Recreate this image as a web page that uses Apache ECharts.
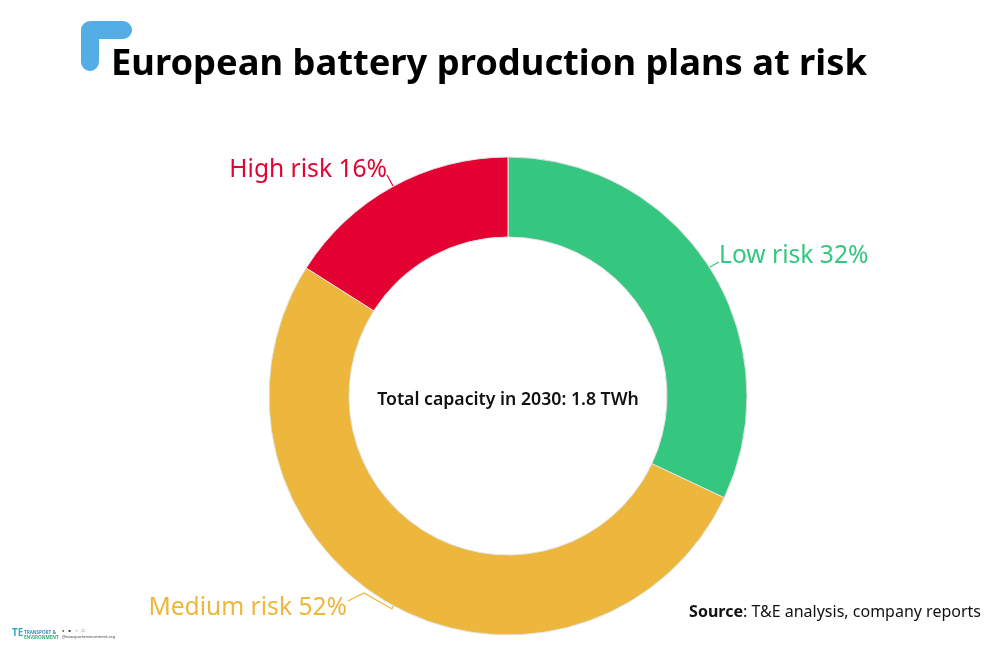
<!DOCTYPE html>
<html>
<head>
<meta charset="utf-8">
<title>European battery production plans at risk</title>
<script src="https://cdn.jsdelivr.net/npm/echarts@6/dist/echarts.min.js"></script>
<style>
html, body { margin: 0; padding: 0; background: #fff; }
#chart { width: 1002px; height: 668px; }
</style>
</head>
<body>
<div id="chart"></div>
<script>
const categories = ["Low risk", "Medium risk", "High risk"];
const shares = [32, 52, 16];
const colors = ["#35c67f", "#ecb73c", "#e40232"];
const titleText = "European battery production plans at risk";
const centerText = "Total capacity in 2030: 1.8 TWh";
const sourceText = "T&E analysis, company reports";

const FONT = '"Noto Sans", sans-serif';

// label anchors and leader lines, in page pixels
const labelSpots = [
	{ x: 719, y: 256, align: "left", line: [[708, 268], [719, 262]] },
	{ x: 347, y: 608, align: "right", line: [[394, 604], [392, 609], [364, 593], [348, 601]] },
	{ x: 387, y: 170, align: "right", line: [[393, 186], [387, 175]] },
];

const myChart = echarts.init(document.getElementById("chart"));

const option = {
	backgroundColor: "#fff",
	animation: false,
	title: [
		{
			text: titleText,
			left: 106,
			top: 42,
			textStyle: { fontFamily: FONT, fontSize: 36.3, fontWeight: "bold", color: "#000" },
		},
		{
			text: centerText,
			left: 503,
			top: 386,
			textAlign: "center",
			textStyle: { fontFamily: FONT, fontSize: 17.7, fontWeight: 600, color: "#111" },
		},
		{
			text: "{b|Source}: " + sourceText,
			right: 16,
			top: 599,
			textStyle: {
				fontFamily: FONT,
				fontSize: 16,
				fontWeight: "normal",
				color: "#111",
				rich: { b: { fontFamily: FONT, fontSize: 16, fontWeight: "bold", color: "#111" } },
			},
		},
	],
	graphic: [
		{
			type: "polyline",
			shape: { points: [[90, 62], [90, 30], [123, 30]] },
			style: { stroke: "#55ade6", fill: null, lineWidth: 18, lineCap: "round", lineJoin: "round" },
		},
		{
			type: "text",
			left: 12,
			top: 628,
			style: { text: "TE", fontFamily: FONT, fontSize: 10, fontWeight: "bold", fill: "#3fa9c9" },
		},
		{
			type: "text",
			left: 24,
			top: 630,
			style: { text: "TRANSPORT &", fontFamily: FONT, fontSize: 4.6, fontWeight: "bold", fill: "#3a8fc0" },
		},
		{
			type: "text",
			left: 24,
			top: 635,
			style: { text: "ENVIRONMENT", fontFamily: FONT, fontSize: 4.6, fontWeight: "bold", fill: "#35b07a" },
		},
		{
			type: "text",
			left: 62,
			top: 629,
			style: { text: "\u25CF    \u25A0    \u25CB    \u25A1", fontFamily: FONT, fontSize: 4, fill: "#333" },
		},
		{
			type: "text",
			left: 62,
			top: 635,
			style: { text: "@transportenvironment.org", fontFamily: FONT, fontSize: 4, fill: "#333" },
		},
	],
	series: [
		{
			type: "pie",
			center: [508, 396],
			radius: [159, 239],
			startAngle: 90,
			clockwise: true,
			silent: true,
			data: categories.map((name, i) => ({
				name,
				value: shares[i],
				itemStyle: { color: colors[i] },
				label: { color: colors[i] },
				labelLine: { lineStyle: { color: colors[i], width: 1.2 } },
			})),
			itemStyle: { borderColor: "#e3e3e3", borderWidth: 1 },
			label: {
				show: true,
				formatter: (p) => `${p.name} ${p.value}%`,
				fontFamily: FONT,
				fontSize: 24.6,
			},
			labelLine: { show: true },
			labelLayout: (params) => {
				const spot = labelSpots[params.dataIndex];
				return {
					x: spot.x,
					y: spot.y,
					align: spot.align,
					verticalAlign: "middle",
					labelLinePoints: spot.line,
				};
			},
		},
	],
};

myChart.setOption(option);
window.onresize = function () {
	myChart.resize();
};
</script>
</body>
</html>
